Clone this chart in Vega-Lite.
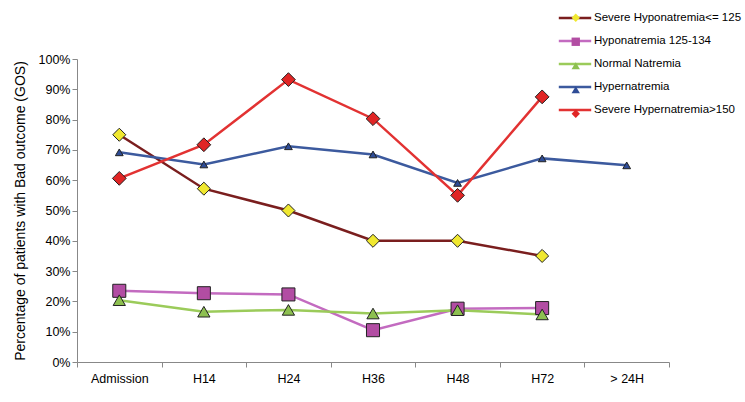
{
  "$schema": "https://vega.github.io/schema/vega-lite/v6.json",
  "width": 592,
  "height": 303,
  "autosize": {"type": "none"},
  "padding": {"left": 77, "top": 59, "right": 76, "bottom": 40},
  "background": "white",
  "config": {"font": "Liberation Sans", "view": {"stroke": null}},
  "data": {
    "values": [
      {"time": "Admission", "series": "Severe Hyponatremia<= 125", "key": "1", "value": 0.75},
      {"time": "H14", "series": "Severe Hyponatremia<= 125", "key": "1", "value": 0.572},
      {"time": "H24", "series": "Severe Hyponatremia<= 125", "key": "1", "value": 0.50},
      {"time": "H36", "series": "Severe Hyponatremia<= 125", "key": "1", "value": 0.40},
      {"time": "H48", "series": "Severe Hyponatremia<= 125", "key": "1", "value": 0.40},
      {"time": "H72", "series": "Severe Hyponatremia<= 125", "key": "1", "value": 0.35},
      {"time": "Admission", "series": "Hyponatremia 125-134", "key": "2", "value": 0.235},
      {"time": "H14", "series": "Hyponatremia 125-134", "key": "2", "value": 0.227},
      {"time": "H24", "series": "Hyponatremia 125-134", "key": "2", "value": 0.223},
      {"time": "H36", "series": "Hyponatremia 125-134", "key": "2", "value": 0.105},
      {"time": "H48", "series": "Hyponatremia 125-134", "key": "2", "value": 0.176},
      {"time": "H72", "series": "Hyponatremia 125-134", "key": "2", "value": 0.178},
      {"time": "Admission", "series": "Normal Natremia", "key": "3", "value": 0.204},
      {"time": "H14", "series": "Normal Natremia", "key": "3", "value": 0.166},
      {"time": "H24", "series": "Normal Natremia", "key": "3", "value": 0.172},
      {"time": "H36", "series": "Normal Natremia", "key": "3", "value": 0.16},
      {"time": "H48", "series": "Normal Natremia", "key": "3", "value": 0.171},
      {"time": "H72", "series": "Normal Natremia", "key": "3", "value": 0.157},
      {"time": "Admission", "series": "Hypernatremia", "key": "4", "value": 0.692},
      {"time": "H14", "series": "Hypernatremia", "key": "4", "value": 0.652},
      {"time": "H24", "series": "Hypernatremia", "key": "4", "value": 0.712},
      {"time": "H36", "series": "Hypernatremia", "key": "4", "value": 0.685},
      {"time": "H48", "series": "Hypernatremia", "key": "4", "value": 0.591},
      {"time": "H72", "series": "Hypernatremia", "key": "4", "value": 0.672},
      {"time": "> 24H", "series": "Hypernatremia", "key": "4", "value": 0.649},
      {"time": "Admission", "series": "Severe Hypernatremia>150", "key": "5", "value": 0.606},
      {"time": "H14", "series": "Severe Hypernatremia>150", "key": "5", "value": 0.717},
      {"time": "H24", "series": "Severe Hypernatremia>150", "key": "5", "value": 0.932},
      {"time": "H36", "series": "Severe Hypernatremia>150", "key": "5", "value": 0.803},
      {"time": "H48", "series": "Severe Hypernatremia>150", "key": "5", "value": 0.55},
      {"time": "H72", "series": "Severe Hypernatremia>150", "key": "5", "value": 0.875}
    ]
  },
  "encoding": {
    "x": {
      "field": "time",
      "type": "nominal",
      "sort": ["Admission", "H14", "H24", "H36", "H48", "H72", "> 24H"],
      "scale": {"domain": ["Admission", "H14", "H24", "H36", "H48", "H72", "> 24H"], "paddingInner": 0, "paddingOuter": 0},
      "axis": {
        "title": null,
        "labelAngle": 0,
        "tickBand": "extent",
        "domainColor": "#888888",
        "tickColor": "#888888",
        "tickSize": 5,
        "labelFontSize": 12.5,
        "labelColor": "#000000",
        "labelPadding": 5,
        "grid": false
      }
    },
    "y": {
      "field": "value",
      "type": "quantitative",
      "scale": {"domain": [0, 1], "nice": false},
      "axis": {
        "title": "Percentage of patients with Bad outcome (GOS)",
        "titleFontSize": 14,
        "titleFontWeight": "normal",
        "titleColor": "#000000",
        "titlePadding": 11,
        "values": [0, 0.1, 0.2, 0.3, 0.4, 0.5, 0.6, 0.7, 0.8, 0.9, 1],
        "format": ".0%",
        "labelFontSize": 12.5,
        "labelColor": "#000000",
        "labelPadding": 2,
        "domainColor": "#888888",
        "tickColor": "#888888",
        "tickSize": 5,
        "grid": false
      }
    }
  },
  "layer": [
    {
      "mark": {"type": "line", "strokeWidth": 2.5},
      "encoding": {
        "stroke": {
          "field": "series",
          "type": "nominal",
          "scale": {
            "domain": ["Severe Hyponatremia<= 125", "Hyponatremia 125-134", "Normal Natremia", "Hypernatremia", "Severe Hypernatremia>150"],
            "range": ["#7a1e1e", "#c36bc0", "#9bcb5a", "#3c5a9e", "#e23232"]
          },
          "legend": {
            "orient": "none",
            "legendX": 492,
            "legendY": -47,
            "title": null,
            "symbolType": "M-3.6,0H3.6",
            "symbolSize": 81,
            "symbolStrokeWidth": 2.5,
            "labelFontSize": 11.5,
            "labelColor": "#000000",
            "labelOffset": 13,
            "rowPadding": 11,
            "zindex": 1
          }
        }
      }
    },
    {
      "mark": {"type": "point", "filled": true, "stroke": "#222222", "strokeWidth": 1, "opacity": 1},
      "encoding": {
        "fill": {
          "field": "key",
          "type": "nominal",
          "scale": {"domain": ["1", "2", "3", "4", "5"], "range": ["#f0e830", "#b24da3", "#8dc050", "#2e4c96", "#e02525"]},
          "legend": {
            "orient": "none",
            "legendX": 493,
            "legendY": -47,
            "title": null,
            "symbolSize": 70,
            "symbolStrokeColor": "#222222",
            "symbolStrokeWidth": 1,
            "symbolOpacity": 1,
            "labelExpr": "''",
            "labelFontSize": 11.5,
            "labelOffset": 13,
            "rowPadding": 11,
            "zindex": 2
          }
        },
        "shape": {
          "field": "key",
          "type": "nominal",
          "scale": {"domain": ["1", "2", "3", "4", "5"], "range": ["diamond", "square", "triangle-up", "triangle-up", "diamond"]},
          "legend": {
            "orient": "none",
            "legendX": 493,
            "legendY": -47,
            "title": null,
            "symbolSize": 70,
            "symbolStrokeColor": "#222222",
            "symbolStrokeWidth": 1,
            "symbolOpacity": 1,
            "labelExpr": "''",
            "labelFontSize": 11.5,
            "labelOffset": 13,
            "rowPadding": 11,
            "zindex": 2
          }
        },
        "size": {
          "condition": [
            {"test": "datum.key == '4'", "value": 60},
            {"test": "datum.key == '3'", "value": 150},
            {"test": "datum.key == '5'", "value": 190}
          ],
          "value": 170
        }
      }
    }
  ]
}
